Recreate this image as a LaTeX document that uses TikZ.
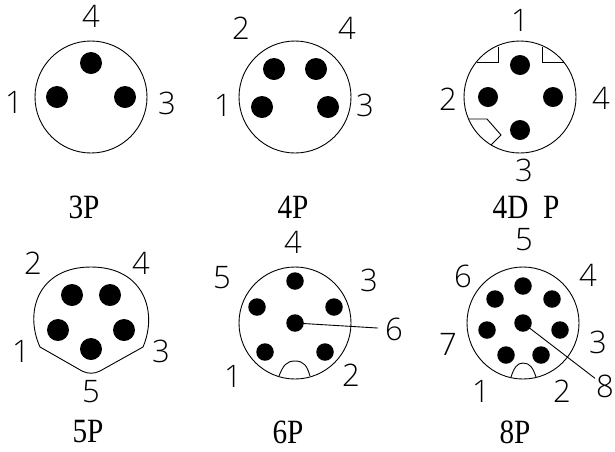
\documentclass[tikz,border=0pt]{standalone}
\usepackage{fontspec}
\setmainfont{Liberation Serif}
\newfontfamily\digitfont[UprightFont={* Light}]{Open Sans}
\newfontfamily\namefont[FakeStretch=0.86]{Liberation Serif}
\tikzstyle{shell} = [circle, draw=black, line width=0.9pt, minimum size=112pt, inner sep=0pt]
\tikzstyle{bigpin} = [circle, fill=black, minimum size=22pt, inner sep=0pt]
\tikzstyle{smallpin} = [circle, fill=black, minimum size=17.5pt, inner sep=0pt]
\tikzstyle{digit} = [inner sep=1pt, font=\fontsize{31}{31}\selectfont\digitfont]
\tikzstyle{kind} = [inner sep=0pt, font=\fontsize{34}{34}\selectfont\namefont]
\tikzstyle{line} = [line width=0.9pt]

\begin{document}
\begin{tikzpicture}[x=1pt, y=-1pt]
\useasboundingbox (0,0) rectangle (615,451);

% Row 1 - 3P
\node (shellA) [shell] at (91,97) {};
\node (pinAfour) [bigpin] at (91,63) {};
\node (pinAone) [bigpin] at (57,97) {};
\node (pinAthree) [bigpin] at (125,97) {};
\node (labAfour) [digit] at (91,16) {4};
\node (labAone) [digit] at (14,102) {1};
\node (labAthree) [digit] at (167,103) {3};
\node (kindA) [kind] at (84,207) {3P};

% Row 1 - 4P
\node (shellB) [shell] at (295,97) {};
\node (pinBtwo) [bigpin] at (274,69) {};
\node (pinBfour) [bigpin] at (316,69) {};
\node (pinBone) [bigpin] at (262,107) {};
\node (pinBthree) [bigpin] at (328,107) {};
\node (labBtwo) [digit] at (241,28) {2};
\node (labBfour) [digit] at (347,28) {4};
\node (labBone) [digit] at (223,105) {1};
\node (labBthree) [digit] at (365,105) {3};
\node (kindB) [kind] at (293,207) {4P};

% Row 1 - 4D P
\node (shellC) [shell] at (520,97) {};
\node (pinCone) [bigpin, minimum size=20pt] at (520,65) {};
\node (pinCtwo) [bigpin, minimum size=20pt] at (488,97) {};
\node (pinCfour) [bigpin, minimum size=20pt] at (553,97) {};
\node (pinCthree) [bigpin, minimum size=20pt] at (520,130) {};
\node (labCone) [digit] at (520,20) {1};
\node (labCtwo) [digit] at (448,99) {2};
\node (labCfour) [digit] at (601,98) {4};
\node (labCthree) [digit] at (524,170) {3};
\node (kindC) [kind] at (526,207) {4D\ \ P};
\draw [line] (498,47) -- (498,62) -- (477,62);
\draw [line] (542,47) -- (542,62) -- (564,62);
\draw [line] (469,119) -- (487,119) -- (501,135) -- (491,145);

% Row 2 - 5P
\draw [line] (40,347) .. controls (24,312) and (38,267) .. (91,267)
  .. controls (144,267) and (158,312) .. (143,347)
  -- (100,371) .. controls (94,374) and (88,374) .. (82,371) -- cycle;
\node (pinDtwo) [bigpin] at (72,295) {};
\node (pinDfour) [bigpin] at (110,295) {};
\node (pinDone) [bigpin] at (58,330) {};
\node (pinDthree) [bigpin] at (124,330) {};
\node (pinDfive) [bigpin] at (91,349) {};
\node (labDtwo) [digit] at (33,263) {2};
\node (labDfour) [digit] at (141,263) {4};
\node (labDone) [digit] at (21,351) {1};
\node (labDthree) [digit] at (161,351) {3};
\node (labDfive) [digit] at (91,392) {5};
\node (kindD) [kind] at (88,432) {5P};

% Row 2 - 6P
\node (shellE) [shell] at (295,323) {};
\node (pinEfour) [smallpin] at (295,281) {};
\node (pinEfive) [smallpin] at (257,307) {};
\node (pinEthree) [smallpin] at (334,307) {};
\node (pinEsix) [smallpin] at (295,323) {};
\node (pinEone) [smallpin] at (265,352) {};
\node (pinEtwo) [smallpin] at (325,352) {};
\node (labEfour) [digit] at (293,242) {4};
\node (labEfive) [digit] at (222,278) {5};
\node (labEthree) [digit] at (369,280) {3};
\node (labEsix) [digit, inner sep=7pt] at (394,329) {6};
\node (labEone) [digit] at (233,376) {1};
\node (labEtwo) [digit] at (351,375) {2};
\node (kindE) [kind] at (288,432) {6P};
\draw [line] (pinEsix.center) -- (labEsix);
\draw [line] (279,376) .. controls (283,366) and (286,361) .. (295,361)
  .. controls (304,361) and (307,366) .. (310,376);

% Row 2 - 8P
\node (shellF) [shell] at (523,323) {};
\node (pinFfive) [smallpin] at (523,286) {};
\node (pinFsix) [smallpin] at (495,299) {};
\node (pinFfour) [smallpin] at (552,299) {};
\node (pinFseven) [smallpin] at (487,330) {};
\node (pinFthree) [smallpin] at (560,330) {};
\node (pinFeight) [smallpin] at (523,323) {};
\node (pinFone) [smallpin] at (506,355) {};
\node (pinFtwo) [smallpin] at (541,355) {};
\node (labFfive) [digit] at (524,240) {5};
\node (labFsix) [digit] at (463,276) {6};
\node (labFfour) [digit] at (588,275) {4};
\node (labFseven) [digit] at (448,344) {7};
\node (labFthree) [digit] at (598,342) {3};
\node (labFeight) [digit] at (605,386) {8};
\node (labFone) [digit] at (481,391) {1};
\node (labFtwo) [digit] at (562,391) {2};
\node (kindF) [kind] at (515,432) {8P};
\draw [line] (pinFeight.center) -- (labFeight);
\draw [line] (511,377) .. controls (514,368) and (517,363) .. (523,363)
  .. controls (530,363) and (533,368) .. (536,377);

\end{tikzpicture}
\end{document}
